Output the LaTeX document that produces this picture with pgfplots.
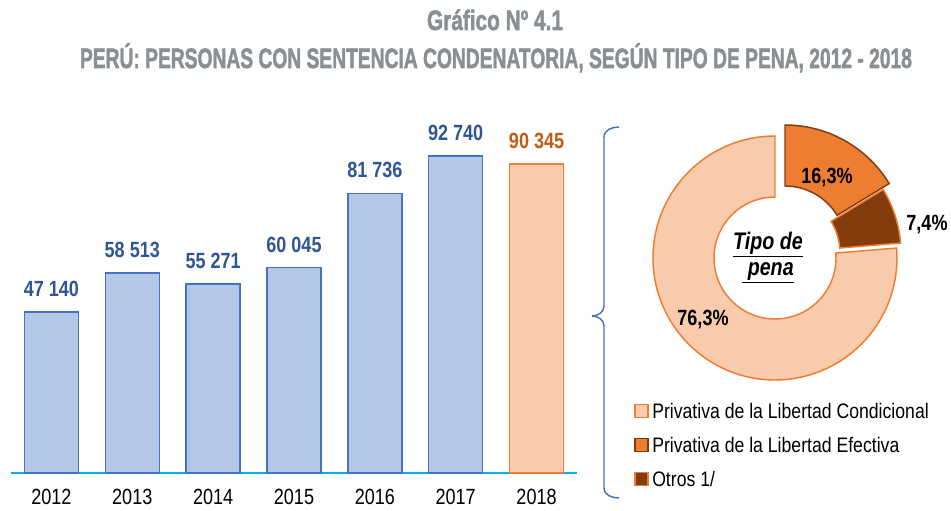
\documentclass[border=0pt]{standalone}
\usepackage{pgfplots}
\pgfplotsset{compat=1.18}
\usepackage{graphicx}
\usepackage{fontspec}
\setmainfont{Liberation Sans}
\newfontfamily\narrow[FakeStretch=0.82]{Liberation Sans}
\newfontfamily\legfont[FakeStretch=0.84]{Liberation Sans}
\newfontfamily\titlefont[FakeBold=2]{Liberation Sans Bold}

\definecolor{barfill}{HTML}{B4C7E7}
\definecolor{barline}{HTML}{4472C4}
\definecolor{valblue}{HTML}{2F5597}
\definecolor{orlight}{HTML}{F8CBAD}
\definecolor{ormid}{HTML}{ED7D31}
\definecolor{orval}{HTML}{C55A11}
\definecolor{dkbrown}{HTML}{843C0C}
\definecolor{baseln}{HTML}{00B0F0}
\definecolor{titlegray}{HTML}{8A8F94}

\begin{document}
\begin{tikzpicture}[x=0.75pt,y=0.75pt]
\path[use as bounding box] (0,0) rectangle (951,511);

% title
\node[anchor=base, text=titlegray, inner sep=0pt] at (495,481)
  {\resizebox{102pt}{\height}{\titlefont\fontsize{21}{24}\selectfont Gráfico Nº 4.1}};
\node[anchor=base, text=titlegray, inner sep=0pt] at (496,443)
  {\resizebox{624pt}{\height}{\titlefont\fontsize{21}{24}\selectfont PERÚ: PERSONAS CON SENTENCIA CONDENATORIA, SEGÚN TIPO DE PENA, 2012 - 2018}};

% bars
\begin{axis}[
  at={(8.25pt,28.5pt)}, anchor=south west, scale only axis,
  width=424.5pt, height=256.5pt,
  xmin=-0.5, xmax=6.5, ymin=0, ymax=100000,
  axis x line*=bottom, axis y line=none,
  x axis line style={draw=baseln, line width=1.5pt},
  xtick={0,1,2,3,4,5,6},
  xticklabels={2012,2013,2014,2015,2016,2017,2018},
  ytick=\empty,
  major tick length=0pt,
  xticklabel style={anchor=center, yshift=-18pt, font=\narrow\fontsize{16.5}{18}\selectfont, text=black},
  ybar, bar width=40.5pt,
  /pgf/number format/fixed,
  /pgf/number format/precision=0,
  /pgf/number format/1000 sep={\ },
  /pgf/number format/assume math mode=true,
  nodes near coords,
  nodes near coords style={font=\narrow\bfseries\fontsize{16.5}{18}\selectfont, anchor=south, inner sep=0pt, yshift=11pt},
  clip=false,
]
\addplot[fill=barfill, draw=barline, line width=1.1pt, bar shift=0pt,
  every node near coord/.append style={text=valblue}]
  coordinates {(0,47140) (1,58513) (2,55271) (3,60045) (4,81736) (5,92740)};
\addplot[fill=orlight, draw=ormid, line width=1.1pt, bar shift=0pt,
  every node near coord/.append style={text=orval}]
  coordinates {(6,90345)};
\end{axis}

% brace
\draw[barline, line width=1.1pt] (619,384) to[out=180,in=90] (604,374) -- (604,205)
  to[out=-90,in=0] (592,195);
\draw[barline, line width=1.1pt] (592,195) to[out=0,in=90] (604,185) -- (604,23)
  to[out=-90,in=180] (619,13);

% donut: share (%), slice centre, fill, border
\def\s{90}
\foreach \p/\cx/\cy/\fc/\dc in {16.3/785/264/ormid/dkbrown, 7.4/779/258/dkbrown/ormid, 76.3/775/253/orlight/ormid}{
  \pgfmathsetmacro\e{\s-3.6*\p}
  \filldraw[fill=\fc, draw=\dc, line width=1.1pt, line join=miter]
    (\cx,\cy) ++(\e:91.5pt) arc[start angle=\e, end angle=\s, radius=91.5pt]
    -- ++(\s+180:45.75pt) arc[start angle=\s, end angle=\e, radius=45.75pt] -- cycle;
  \xdef\s{\e}
}
\node[font=\narrow\bfseries\fontsize{16.5}{18}\selectfont] at (827,333) {16,3\%};
\node[font=\narrow\bfseries\fontsize{16.5}{18}\selectfont] at (927,286) {7,4\%};
\node[font=\narrow\bfseries\fontsize{16.5}{18}\selectfont] at (703,191) {76,3\%};
\node[font=\narrow\bfseries\itshape\fontsize{18}{18}\selectfont] at (768,266) {\underline{Tipo de}};
\node[font=\narrow\bfseries\itshape\fontsize{18}{18}\selectfont] at (768,238) {\underline{\ pena}};

% legend
\foreach \yy/\fc/\dc/\txt in {100/orlight/ormid/{Privativa de la Libertad Condicional},
    66/ormid/dkbrown/{Privativa de la Libertad Efectiva},
    32/dkbrown/ormid/{Otros 1/}}{
  \filldraw[fill=\fc, draw=\dc, line width=1pt] (635,\yy-6.5) rectangle (648,\yy+6.5);
  \node[anchor=west, inner sep=0pt, font=\legfont\fontsize{15.75}{18}\selectfont] at (652,\yy) {\txt};
}
\end{tikzpicture}
\end{document}
